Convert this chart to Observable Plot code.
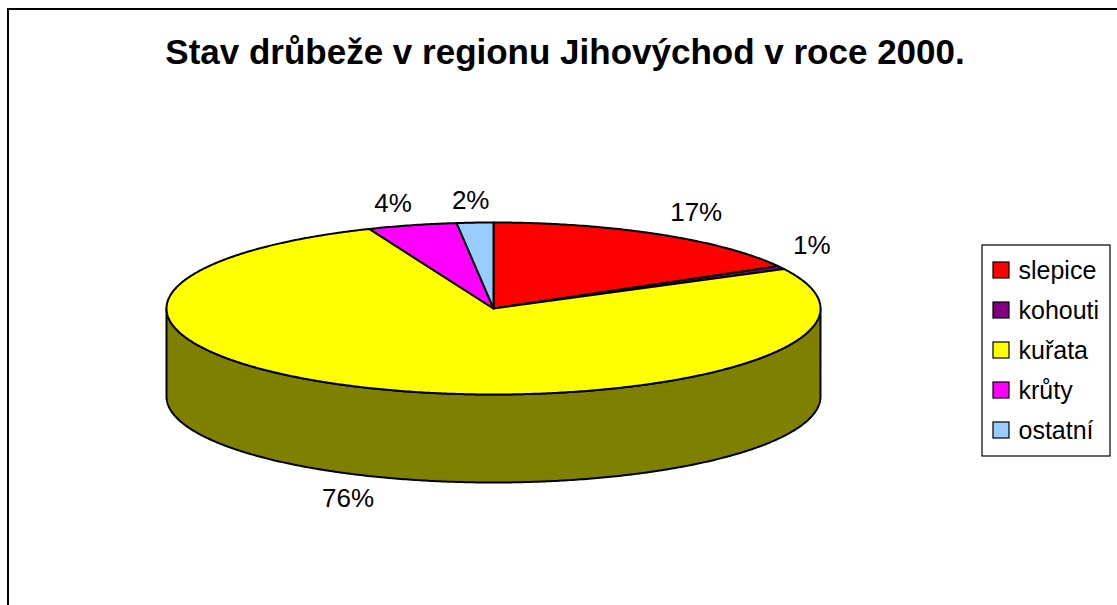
<!DOCTYPE html>
<html><head><meta charset="utf-8">
<script src="https://cdn.jsdelivr.net/npm/d3@7"></script>
<script src="https://cdn.jsdelivr.net/npm/@observablehq/plot@0.6"></script>
<style>
html,body{margin:0;padding:0;background:#fff;overflow:hidden;width:1117px;height:605px;}
#frame{position:absolute;left:7px;top:8px;width:1300px;height:800px;border:2px solid #000;box-sizing:border-box;}
#chart{position:absolute;left:0;top:0;}
</style></head><body>
<div id="frame"></div>
<div id="chart"></div>
<script>
// ---- data ----
const title = "Stav drůbeže v regionu Jihovýchod v roce 2000.";
const categories = ["slepice", "kohouti", "kuřata", "krůty", "ostatní"];
const values = [16.8, 0.6, 76.4, 4.4, 1.8];          // share in %
const colors = ["#FF0000", "#800080", "#FFFF00", "#FF00FF", "#99CCFF"];
const sideColors = ["#800000", "#400040", "#808000", "#800080", "#4D6680"];

// ---- layout ----
const W = 1117, H = 605;
const cx = 493, cy = 308, rx = 327, ry = 86, depth = 88;
const FONT = "'Liberation Sans', Arial, Helvetica, sans-serif";
const labelSize = 26, legendSize = 25;

const total = d3.sum(values);
const pie = d3.pie().sort(null).startAngle(0).endAngle(2 * Math.PI)(values);
const deg = Math.PI / 180;
const pt = (a, dy = 0) => ({x: cx + rx * Math.sin(a), y: cy - ry * Math.cos(a) + dy});
function arc(a0, a1, dy = 0) {
  const n = Math.max(2, Math.ceil((a1 - a0) / (0.5 * deg)));
  return d3.range(n + 1).map(i => pt(a0 + (a1 - a0) * i / n, dy));
}

// side walls (front half: 90°..270°)
const sides = [];
pie.forEach((p, i) => {
  const s = Math.max(p.startAngle, 90 * deg), e = Math.min(p.endAngle, 270 * deg);
  if (e > s) sides.push({i, pts: [...arc(s, e), ...arc(s, e, depth).reverse()]});
});
// top faces
const tops = pie.map((p, i) => ({i, pts: [{x: cx, y: cy}, ...arc(p.startAngle, p.endAngle)]}));

// labels
const charW = c => (c === "%" ? 0.889 : 0.556);
const clamp = t => Math.max(-1, Math.min(1, t));
const labels = pie.map((p, i) => {
  const m = (p.startAngle + p.endAngle) / 2;
  const text = Math.round(values[i] / total * 100) + "%";
  const hw = d3.sum([...text], charW) * labelSize / 2, hh = labelSize * 0.38, g = 12;
  const s = Math.sin(m), c = Math.cos(m);
  const base = pt(m, c < 0 ? depth : 0);
  return {text, x: base.x + (hw + g) * clamp(s * 2.5), y: base.y - (hh + g) * clamp(c * 2.5)};
});

// legend
const lg = {x1: 982, x2: 1110, y1: 245, y2: 456, top: 270, step: 40};
const legend = categories.map((name, i) => ({name, color: colors[i], y: lg.top + i * lg.step}));

const marks = [
  ...sides.map(s => Plot.line(s.pts, {x: "x", y: "y", curve: "linear-closed", fill: sideColors[s.i], stroke: "black", strokeWidth: 2, strokeLinejoin: "round"})),
  ...tops.map(t => Plot.line(t.pts, {x: "x", y: "y", curve: "linear-closed", fill: colors[t.i], stroke: "black", strokeWidth: 2, strokeLinejoin: "round"})),
  Plot.text(labels, {x: "x", y: "y", text: "text", fontSize: labelSize, fontFamily: FONT, fill: "black", textAnchor: "middle", lineAnchor: "middle"}),
  Plot.text([title], {x: W / 2 + 6, y: 52, text: d => d, fontSize: 35, fontWeight: "bold", fontFamily: FONT, fill: "black", textAnchor: "middle", lineAnchor: "middle"}),
  Plot.rect([lg], {x1: "x1", x2: "x2", y1: "y1", y2: "y2", fill: "white", stroke: "black", strokeWidth: 1.2}),
  Plot.rect(legend, {x1: lg.x1 + 11, x2: lg.x1 + 27, y1: d => d.y - 8, y2: d => d.y + 8, fill: "color", stroke: "black", strokeWidth: 1.2}),
  Plot.text(legend, {x: lg.x1 + 36, y: "y", text: "name", fontSize: legendSize, fontFamily: FONT, fill: "black", textAnchor: "start", lineAnchor: "middle"})
];

const chart = Plot.plot({
  width: W, height: H, margin: 0,
  x: {domain: [0, W], range: [0, W], axis: null},
  y: {domain: [0, H], range: [0, H], axis: null},
  style: {background: "transparent", fontFamily: FONT, overflow: "visible"},
  marks
});
document.getElementById("chart").appendChild(chart);
</script>
</body></html>
